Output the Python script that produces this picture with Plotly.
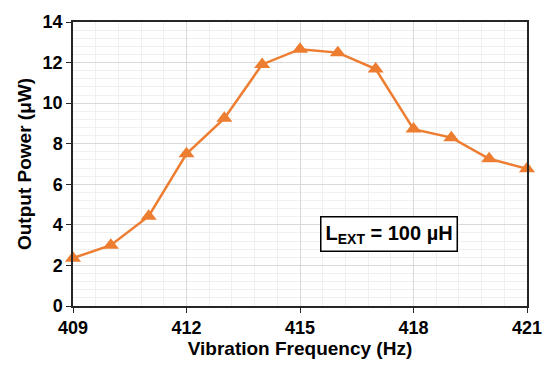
import plotly.graph_objects as go

freq = [409, 410, 411, 412, 413, 414, 415, 416, 417, 418, 419, 420, 421]
power = [2.36, 3.0, 4.43, 7.5, 9.25, 11.91, 12.66, 12.49, 11.68, 8.72, 8.3, 7.26, 6.77]
x_ticks = [409, 412, 415, 418, 421]
y_ticks = [0, 2, 4, 6, 8, 10, 12, 14]

orange = "#ED7D31"
font = "Liberation Sans, Arial, sans-serif"

fig = go.Figure()
fig.add_trace(go.Scatter(
    x=freq, y=power, mode="lines+markers",
    line=dict(color=orange, width=2.5),
    marker=dict(symbol="triangle-up", size=14, color=orange),
    cliponaxis=False, showlegend=False,
))

fig.add_annotation(
    x=417.36, y=3.54, xref="x", yref="y",
    text="L<sub>EXT</sub> = 100 µH",
    showarrow=False, font=dict(family=font, size=20, color="black", weight="bold"),
    bordercolor="black", borderwidth=1.5, borderpad=4, bgcolor="white",
)

axis_common = dict(
    showline=True, mirror=True, linecolor="#262626", linewidth=1.5,
    gridcolor="#d9d9d9", gridwidth=1, zeroline=False,
    ticks="outside", ticklen=5, tickcolor="#262626",
    tickfont=dict(family=font, size=18, color="black", weight="bold"),
)

fig.update_xaxes(
    range=[409, 421], tickvals=x_ticks,
    minor=dict(dtick=0.6, tick0=409, showgrid=True, gridcolor="#f0f0f0", ticks=""),
    title=dict(text="Vibration Frequency (Hz)", font=dict(family=font, size=19, color="black", weight="bold"), standoff=4),
    **axis_common,
)
fig.update_yaxes(
    range=[0, 14], tickvals=y_ticks,
    minor=dict(dtick=0.4, tick0=0, showgrid=True, gridcolor="#f0f0f0", ticks=""),
    title=dict(text="Output Power (μW)", font=dict(family=font, size=19, color="black", weight="bold"), standoff=6),
    **axis_common,
)

fig.update_layout(
    width=554, height=368,
    margin=dict(l=73, r=23, t=14, b=61),
    plot_bgcolor="white", paper_bgcolor="white",
)

fig.write_html("out.html")
